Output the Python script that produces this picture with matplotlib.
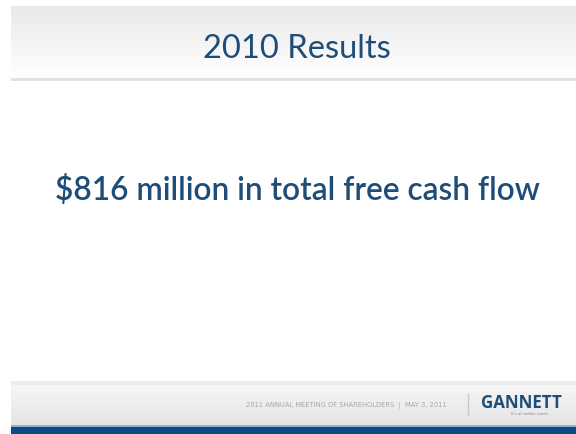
import matplotlib

matplotlib.use("Agg")
import matplotlib.pyplot as plt
import numpy as np

TITLE = "2010 Results"
HEADLINE = "$816 million in total free cash flow"
FOOTER_TEXT = "2011 ANNUAL MEETING OF SHAREHOLDERS  |  MAY 3, 2011"
BRAND = "GANNETT"
TAGLINE = "It's all within reach."

BLUE = "#1d4d78"
W, H = 576, 435


def vgrad(ax, x0, x1, y0, y1, c_top, c_bot):
    top = np.array(matplotlib.colors.to_rgb(c_top))
    bot = np.array(matplotlib.colors.to_rgb(c_bot))
    t = np.linspace(0, 1, 64)[:, None]
    img = (top * (1 - t) + bot * t)[:, None, :]
    ax.imshow(img, extent=(x0, x1, y1, y0), aspect="auto", zorder=0,
              interpolation="bilinear")


fig = plt.figure(figsize=(W / 100, H / 100), dpi=100)
ax = fig.add_axes([0, 0, 1, 1])
ax.set_xlim(0, W)
ax.set_ylim(H, 0)
ax.axis("off")

# title band
vgrad(ax, 11, W, 7, 79, "#e9e9e9", "#ffffff")
ax.fill_between([11, W], 79, 82, color="#e2e2e2", lw=0, zorder=1)
ax.text(297, 49, TITLE, ha="center", va="center", fontsize=23.5,
        color=BLUE, family="Lato")

# headline
ax.text(297, 191, HEADLINE, ha="center", va="center", fontsize=22.8,
        color=BLUE, family="Lato", fontweight="semibold")

# footer band
ax.fill_between([11, W], 382, 386, color="#ececec", lw=0, zorder=1)
vgrad(ax, 11, W, 386, 426, "#f6f6f6", "#e4e4e4")
ax.fill_between([11, W], 426, 428, color="#8fb0cf", lw=0, zorder=1)
ax.fill_between([11, W], 428, H, color="#0b4a85", lw=0, zorder=1)

ax.text(346, 406, FOOTER_TEXT, ha="center", va="center", fontsize=4.9,
        color="#a8a8a8", family="DejaVu Sans")
ax.plot([468, 468], [395, 416], color="#c8c8c8", lw=1, zorder=2)
ax.text(521, 403, BRAND, ha="center", va="center", fontsize=12.2,
        color=BLUE, family="Open Sans", fontweight="bold")
ax.text(530, 414.5, TAGLINE, ha="center", va="center", fontsize=2.8,
        color="#888888", family="DejaVu Sans")

fig.savefig("out.png", dpi=100)
